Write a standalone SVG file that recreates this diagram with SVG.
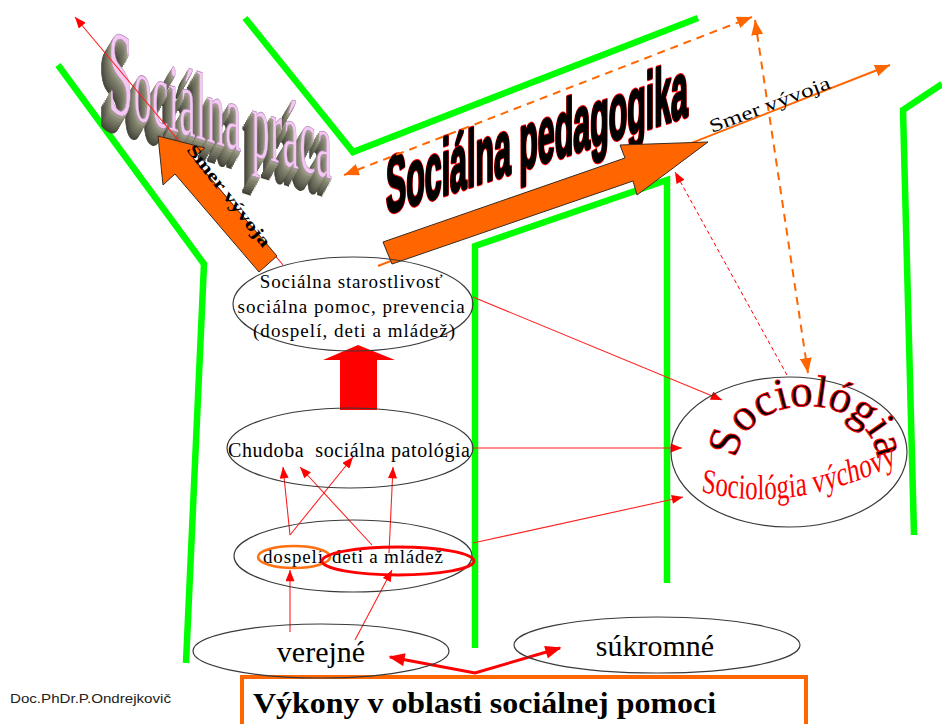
<svg xmlns="http://www.w3.org/2000/svg" xmlns:xlink="http://www.w3.org/1999/xlink" width="942" height="724" viewBox="0 0 942 724">
<style>
.green{fill:none;stroke:#00ff00;stroke-width:6.5;stroke-linejoin:miter}
.ell{fill:none;stroke:#3a3a3a;stroke-width:1.2}
.serif{font-family:"Liberation Serif","Times New Roman",serif}
.sans{font-family:"Liberation Sans",Arial,sans-serif}
.rl{fill:none;stroke:#ff2020;stroke-width:1.1}
.od{fill:none;stroke:#ff6600;stroke-width:2;stroke-dasharray:8 6}
.big{fill:#ff6600;stroke:#3a2a20;stroke-width:1}
</style>
<defs>
<marker id="ahr" viewBox="0 0 10 8" refX="10" refY="4" markerWidth="12" markerHeight="9" markerUnits="userSpaceOnUse" orient="auto-start-reverse"><path d="M0,0 L10,4 L0,8 z" fill="#ff0000"/></marker>
<marker id="ahrb" viewBox="0 0 10 8" refX="9" refY="4" markerWidth="17" markerHeight="13" markerUnits="userSpaceOnUse" orient="auto-start-reverse"><path d="M0,0 L10,4 L0,8 z" fill="#ff0000"/></marker>
<marker id="aho" viewBox="0 0 10 8" refX="10" refY="4" markerWidth="15" markerHeight="12" markerUnits="userSpaceOnUse" orient="auto-start-reverse"><path d="M0,0 L10,4 L0,8 z" fill="#ff6600"/></marker>
<text id="pt" class="serif" font-size="36" textLength="224"><tspan font-size="45">S</tspan>ociálna práca</text>
<path id="arcS" d="M737,460 A70,54 0 0 1 877,460"/>
<path id="arcV" d="M700,492 Q790,510 898,472"/>
</defs>
<rect width="942" height="724" fill="#ffffff"/>

<g id="walls">
<path class="green" d="M58,65 L204,264 L186,663"/>
<path class="green" d="M245,18 L353,152 L698,18"/>
<path class="green" d="M475,648 L475,246 L667,180 L667,583"/>
<path class="green" d="M942,84 L903,110 L914,535"/>
</g>

<g id="socialna-praca">
<g transform="translate(108,111) skewY(17) scale(1,2.7)">
<use xlink:href="#pt" x="-9.6" y="7.2" fill="#45453a" stroke="#45453a" stroke-width="0.6"/>
<use xlink:href="#pt" x="-8.4" y="6.3" fill="#525246" stroke="#525246" stroke-width="0.6"/>
<use xlink:href="#pt" x="-7.2" y="5.4" fill="#5e5e50" stroke="#5e5e50" stroke-width="0.6"/>
<use xlink:href="#pt" x="-6" y="4.5" fill="#6a6a5a" stroke="#6a6a5a" stroke-width="0.6"/>
<use xlink:href="#pt" x="-4.8" y="3.6" fill="#737362" stroke="#737362" stroke-width="0.6"/>
<use xlink:href="#pt" x="-3.6" y="2.7" fill="#7d7d6a" stroke="#7d7d6a" stroke-width="0.6"/>
<use xlink:href="#pt" x="-2.4" y="1.8" fill="#888874" stroke="#888874" stroke-width="0.6"/>
<use xlink:href="#pt" x="-1.2" y="0.9" fill="#9a9a86" stroke="#9a9a86" stroke-width="0.5"/>
<use xlink:href="#pt" x="0" y="0" fill="#f3c8f3" stroke="#b48ab4" stroke-width="0.3"/>
</g>
</g>

<g id="socialna-pedagogika">
<g transform="translate(386,214) skewY(-18)">
<text class="sans" font-size="80" font-weight="bold" textLength="302" lengthAdjust="spacingAndGlyphs" fill="#000" stroke="#ff0000" stroke-width="4.5" stroke-linejoin="round">Sociálna pedagogika</text>
<text class="sans" font-size="80" font-weight="bold" textLength="302" lengthAdjust="spacingAndGlyphs" fill="#000" stroke="#000" stroke-width="2.5" stroke-linejoin="round">Sociálna pedagogika</text>
</g>
</g>

<g id="connectors">
<line class="rl" x1="283" y1="265" x2="75" y2="17" marker-end="url(#ahr)"/>
<line x1="378" y1="266" x2="890" y2="65" stroke="#ff6600" stroke-width="2" marker-end="url(#aho)"/>
<line class="od" x1="344" y1="175" x2="752" y2="17" marker-start="url(#aho)" marker-end="url(#aho)"/>
<line class="od" x1="755" y1="20" x2="808" y2="373" marker-start="url(#aho)" marker-end="url(#aho)"/>
<line x1="787" y1="375" x2="675" y2="172" stroke="#ff0000" stroke-width="1" stroke-dasharray="4 3" marker-end="url(#ahr)"/>
<line class="rl" x1="473" y1="297" x2="722" y2="400" marker-end="url(#ahr)"/>
<line class="rl" x1="473" y1="448" x2="682" y2="448" marker-end="url(#ahr)"/>
<line class="rl" x1="473" y1="543" x2="683" y2="497" marker-end="url(#ahr)"/>
<line class="rl" x1="290" y1="535" x2="283" y2="467" marker-end="url(#ahr)"/>
<line class="rl" x1="290" y1="535" x2="353" y2="457" marker-end="url(#ahr)"/>
<line class="rl" x1="372" y1="545" x2="300" y2="467" marker-end="url(#ahr)"/>
<line class="rl" x1="389" y1="553" x2="393" y2="467" marker-end="url(#ahr)"/>
<line class="rl" x1="290" y1="632" x2="290" y2="570" marker-end="url(#ahr)"/>
<line class="rl" x1="355" y1="640" x2="392" y2="570" marker-end="url(#ahr)"/>
<polygon fill="#ff0000" points="358,345 395,360 377,360 377,410 340,410 340,360 323,360"/>
<polygon class="big" points="158,136 205,148 193,158 277,256 259,272 175,174 163,185"/>
<polygon class="big" points="383,242 625,158 620,145 708,142 637,195 633,181 392,264"/>
<text class="serif" font-size="17" font-weight="bold" fill="#000" transform="translate(186,150) rotate(52)" textLength="125" lengthAdjust="spacingAndGlyphs">Smer vývoja</text>
<text class="serif" font-size="19" fill="#000" transform="translate(712,133) rotate(-20.7)" textLength="128" lengthAdjust="spacingAndGlyphs">Smer vývoja</text>
<polyline points="390,657 475,673 560,648" fill="none" stroke="#ff0000" stroke-width="3" marker-start="url(#ahrb)" marker-end="url(#ahrb)"/>
</g>

<g id="n-starostlivost">
<ellipse class="ell" cx="353" cy="304" rx="120" ry="47"/>
<text class="serif" font-size="19" text-anchor="middle" fill="#000">
<tspan x="354" y="288" textLength="183">Sociálna starostlivosť</tspan>
<tspan x="354" y="313" textLength="227">sociálna pomoc, prevencia</tspan>
<tspan x="354" y="337" textLength="202">(dospelí, deti a mládež)</tspan>
</text>
</g>

<g id="n-chudoba">
<ellipse class="ell" cx="350" cy="448" rx="123" ry="40"/>
<text class="serif" font-size="20" x="228" y="457" textLength="242" xml:space="preserve" fill="#000">Chudoba  sociálna patológia</text>
</g>

<g id="n-skupiny">
<ellipse class="ell" cx="353" cy="556" rx="119" ry="36"/>
<text class="serif" font-size="19" x="263" y="563" textLength="60" fill="#000">dospelí</text>
<text class="serif" font-size="19" x="332" y="563" textLength="111" fill="#000">deti a mládež</text>
<ellipse cx="294" cy="557" rx="36" ry="11" fill="none" stroke="#ff7010" stroke-width="2.5"/>
<ellipse cx="398" cy="561" rx="76" ry="14" fill="none" stroke="#ff0000" stroke-width="3"/>
</g>

<g id="n-sociologia">
<ellipse class="ell" cx="789" cy="452" rx="118" ry="75"/>
<text class="serif" font-size="45" fill="#000" stroke="#ff0000" stroke-width="0.9"><textPath xlink:href="#arcS" startOffset="50%" text-anchor="middle">Sociológia</textPath></text>
<g transform="translate(0,494) scale(1,1.4) translate(0,-494)">
<text class="serif" font-size="25" fill="#ff0000"><textPath xlink:href="#arcV" startOffset="50%" text-anchor="middle">Sociológia výchovy</textPath></text>
</g>
</g>

<g id="n-vykony">
<rect x="242" y="677" width="564" height="60" fill="#ffffff" stroke="#ff6600" stroke-width="4"/>
<text class="serif" font-size="29" font-weight="bold" x="253" y="713" textLength="463" lengthAdjust="spacingAndGlyphs" fill="#000">Výkony v oblasti sociálnej pomoci</text>
</g>

<g id="n-verejne">
<ellipse class="ell" cx="321" cy="651" rx="128" ry="27"/>
<text class="serif" font-size="30" x="321" y="662" text-anchor="middle" fill="#000">verejné</text>
</g>

<g id="n-sukromne">
<ellipse class="ell" cx="657" cy="645" rx="143" ry="28"/>
<text class="serif" font-size="30" x="655" y="656" text-anchor="middle" fill="#000">súkromné</text>
</g>

<g id="footer">
<text class="sans" font-size="12" x="10" y="703" textLength="161" lengthAdjust="spacingAndGlyphs" fill="#222">Doc.PhDr.P.Ondrejkovič</text>
</g>
</svg>
